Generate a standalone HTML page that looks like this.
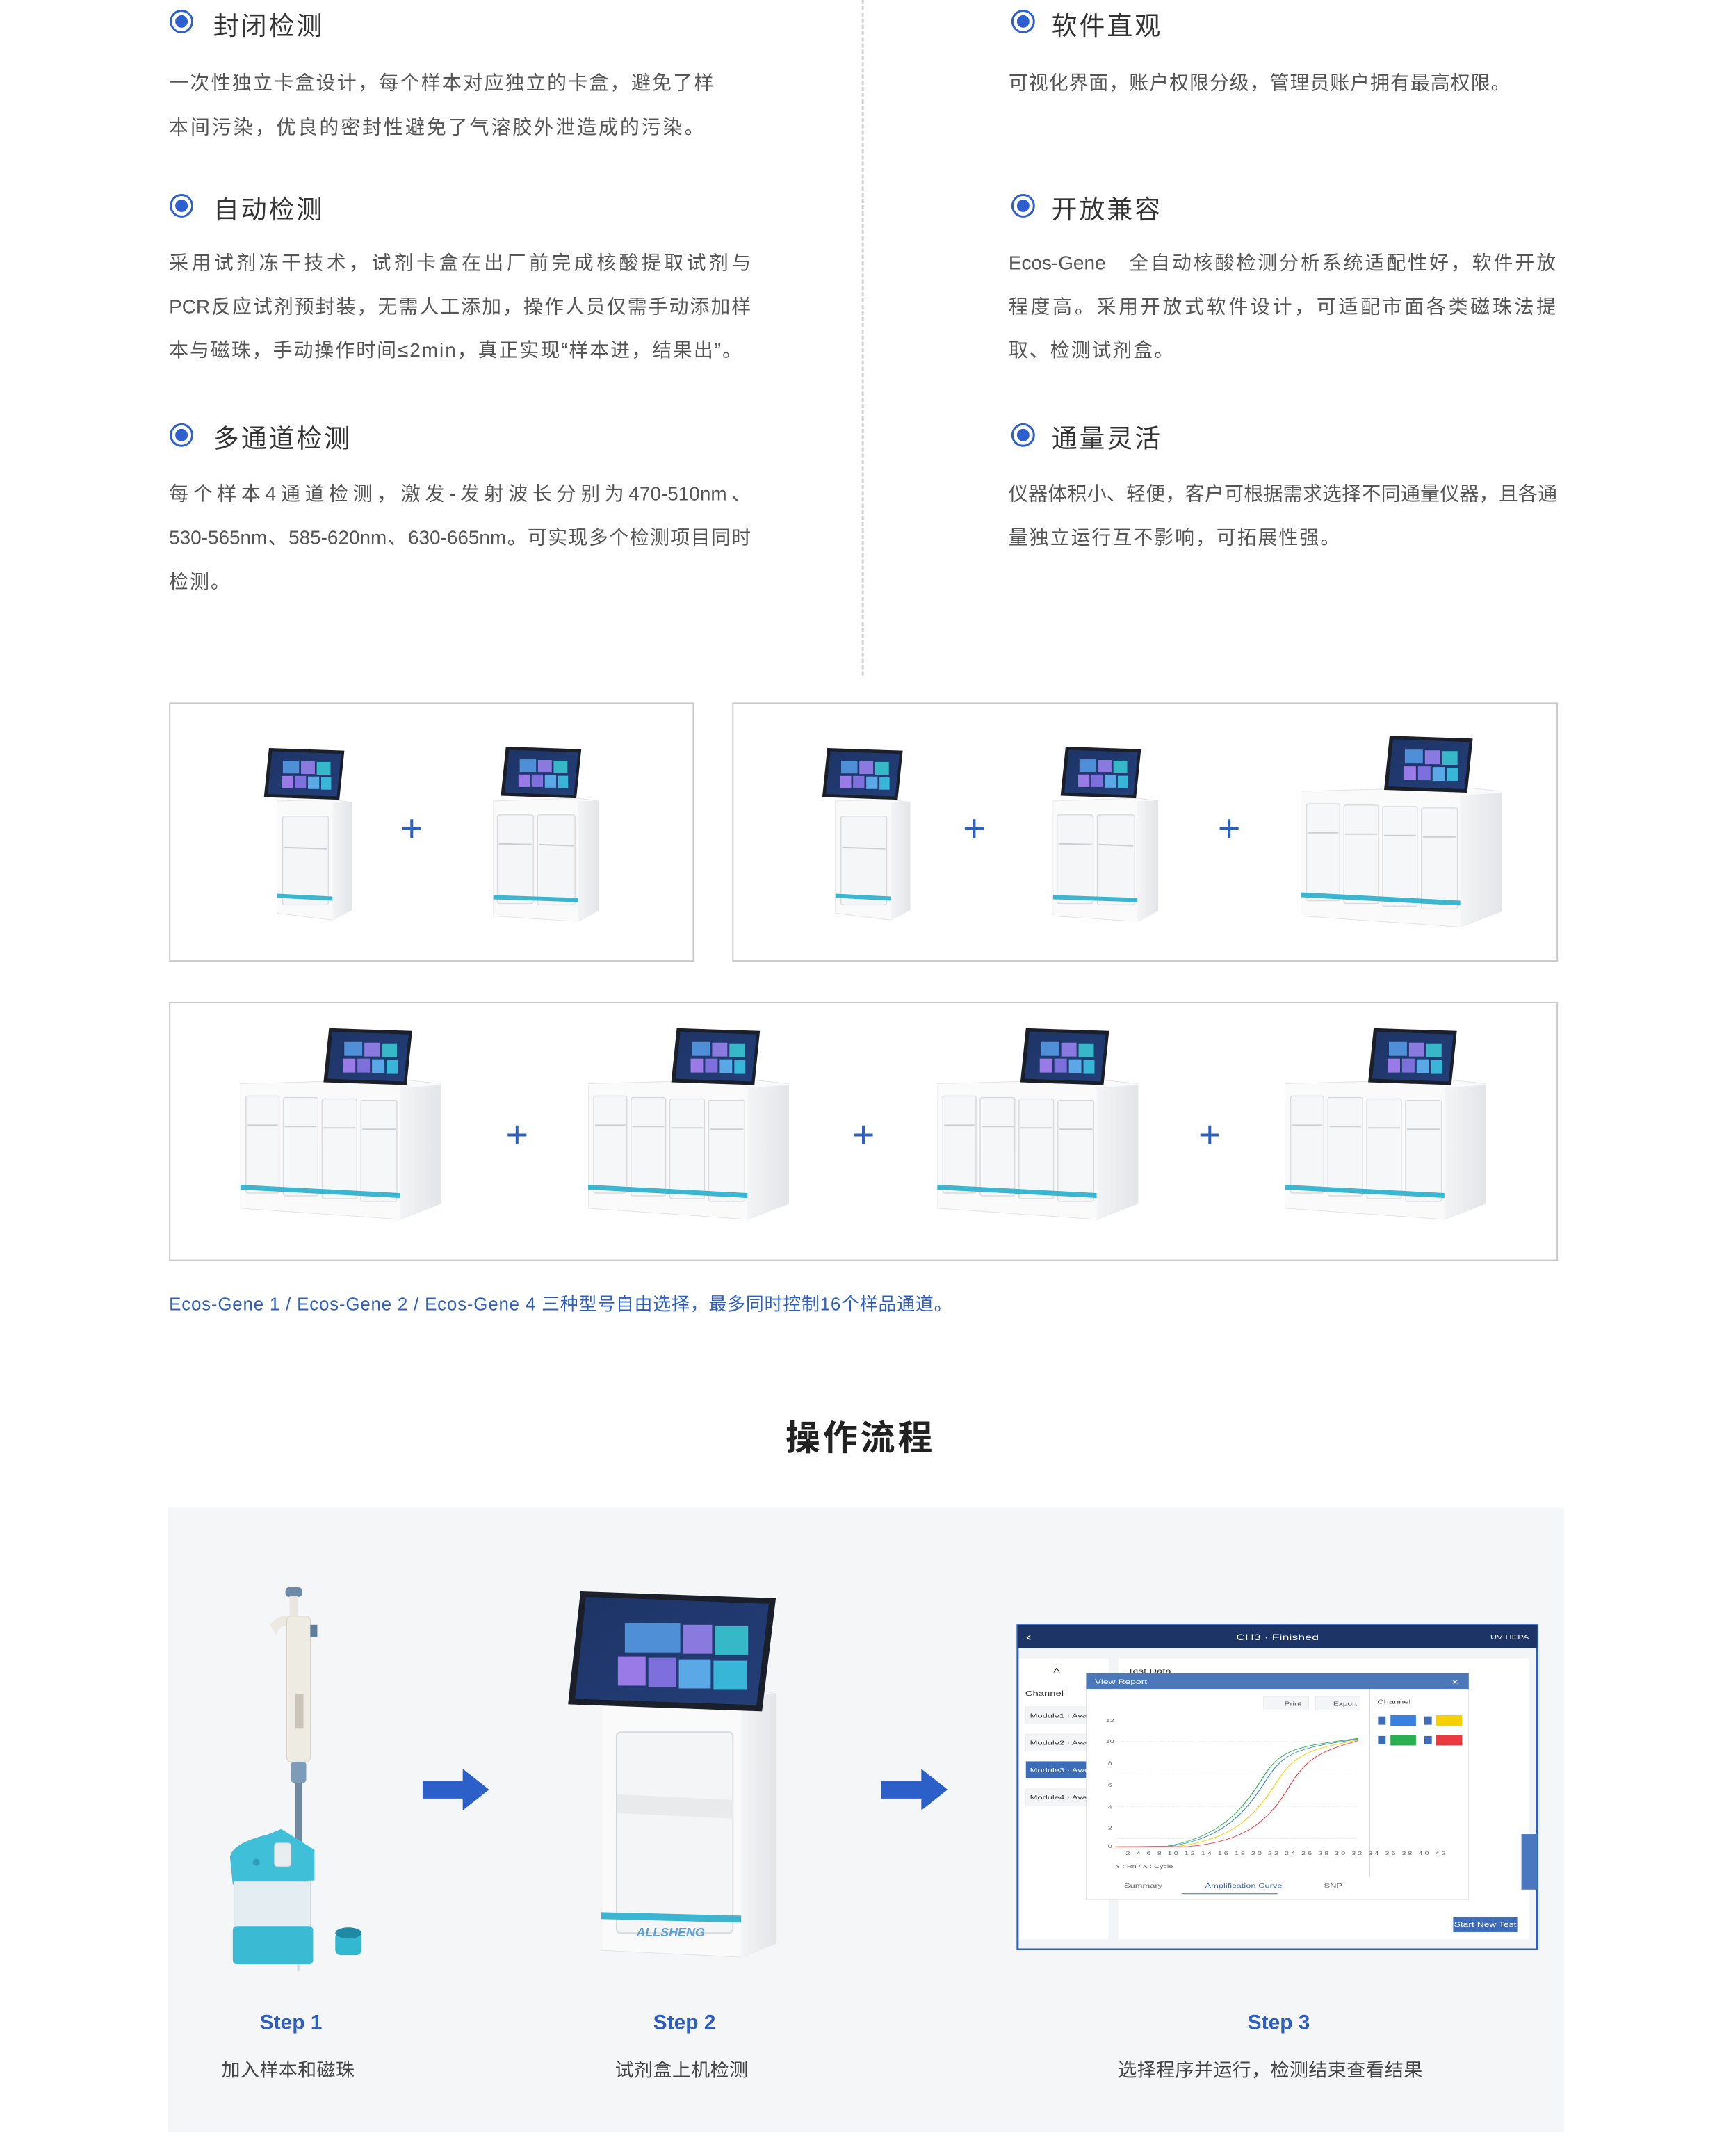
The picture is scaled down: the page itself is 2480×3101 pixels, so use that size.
<!DOCTYPE html>
<html><head><meta charset="utf-8">
<style>
body{margin:0;background:#fff;}
#w{width:2480px;height:3101px;overflow:hidden;position:relative;}
#p{position:relative;width:2480px;height:3101px;overflow:hidden;background:#fff;font-family:"Liberation Sans","Noto Sans CJK SC",sans-serif;transform:scale(0.9965);transform-origin:0 0;}
.a{position:absolute;white-space:nowrap;}
.bul{position:absolute;width:34px;height:34px;border:3px solid #2d5fd0;border-radius:50%;box-sizing:border-box;}
.bul:after{content:"";position:absolute;left:5px;top:5px;width:18px;height:18px;border-radius:50%;background:#2d5fd0;}
.ti{position:absolute;font-size:37px;color:#333;letter-spacing:3px;white-space:nowrap;}
.tx{position:absolute;font-size:28px;color:#555;letter-spacing:2px;white-space:nowrap;}
.j{text-align:justify;text-align-last:justify;letter-spacing:0;}
.box{position:absolute;border:2px solid #c8c8c8;box-sizing:border-box;}
.plus{position:absolute;color:#2d5fc0;font-size:56px;line-height:56px;font-weight:300;}
svg.d{position:absolute;}
.st{position:absolute;font-size:30px;font-weight:bold;color:#2d5fc0;transform:translateX(-50%);white-space:nowrap;}
.sd{position:absolute;font-size:27px;color:#444;transform:translateX(-50%);white-space:nowrap;letter-spacing:0.5px;}
</style></head><body><div id="w"><div id="p">
<svg width="0" height="0" style="position:absolute">
<defs>
<linearGradient id="scr" x1="0" y1="0" x2="1" y2="1"><stop offset="0" stop-color="#1d3466"/><stop offset="1" stop-color="#243e78"/></linearGradient>
<linearGradient id="side" x1="0" y1="0" x2="1" y2="0"><stop offset="0" stop-color="#f3f4f6"/><stop offset="1" stop-color="#e3e5e8"/></linearGradient>
<symbol id="tab" viewBox="0 0 130 86">
<polygon points="8,2 128,6 120,84 0,80" fill="#1b1f2a"/>
<polygon points="13,7 123,11 116,79 6,75" fill="url(#scr)"/>
<rect x="30" y="22" width="26" height="20" fill="#4f8fd8"/><rect x="59" y="23" width="22" height="20" fill="#8a7ae0"/><rect x="84" y="24" width="22" height="20" fill="#36b8c8"/>
<rect x="28" y="46" width="18" height="20" fill="#9a7ae6"/><rect x="49" y="46" width="18" height="20" fill="#7e70dc"/><rect x="70" y="47" width="18" height="20" fill="#5aa8e6"/><rect x="91" y="48" width="16" height="20" fill="#38b6d8"/>
</symbol>
<symbol id="d4" viewBox="0 0 290 280">
<polygon points="0,82 230,76 290,82 290,255 230,278 0,262" fill="#fafafb" stroke="#e2e4e6"/>
<polygon points="230,88 290,84 290,255 230,278" fill="url(#side)"/>
<g fill="#f6f7f8" stroke="#dadcdf" stroke-width="1.5">
<rect x="8" y="100" width="48" height="140" rx="3"/><rect x="62" y="102" width="50" height="142" rx="3"/><rect x="118" y="104" width="50" height="144" rx="3"/><rect x="174" y="106" width="52" height="146" rx="3"/></g>
<g stroke="#ccd0d4" stroke-width="2"><line x1="10" y1="142" x2="54" y2="142"/><line x1="64" y1="144" x2="110" y2="144"/><line x1="120" y1="146" x2="166" y2="146"/><line x1="176" y1="148" x2="224" y2="148"/></g>
<polygon points="0,228 230,240 230,247 0,235" fill="#3bb5d0"/>
<use href="#tab" x="120" y="0" width="130" height="86"/>
</symbol>
<symbol id="d1" viewBox="0 0 128 250">
<polygon points="20,78 100,76 128,80 128,235 100,250 20,240" fill="#fafafb" stroke="#e2e4e6"/>
<polygon points="100,80 128,80 128,235 100,250" fill="url(#side)"/>
<rect x="28" y="100" width="66" height="128" rx="3" fill="#f5f6f7" stroke="#dadcdf" stroke-width="1.5"/>
<line x1="30" y1="145" x2="92" y2="147" stroke="#ccd0d4" stroke-width="2"/>
<polygon points="20,212 100,216 100,222 20,218" fill="#3bb5d0"/>
<use href="#tab" x="0" y="0" width="120" height="78"/>
</symbol>
<symbol id="d2" viewBox="0 0 152 254">
<polygon points="0,80 122,76 152,80 152,238 122,254 0,246" fill="#fafafb" stroke="#e2e4e6"/>
<polygon points="122,80 152,80 152,238 122,254" fill="url(#side)"/>
<rect x="6" y="100" width="52" height="128" rx="3" fill="#f5f6f7" stroke="#dadcdf" stroke-width="1.5"/>
<rect x="64" y="100" width="54" height="130" rx="3" fill="#f5f6f7" stroke="#dadcdf" stroke-width="1.5"/>
<line x1="8" y1="142" x2="56" y2="143" stroke="#ccd0d4" stroke-width="2"/><line x1="66" y1="143" x2="116" y2="145" stroke="#ccd0d4" stroke-width="2"/>
<polygon points="0,216 122,220 122,226 0,222" fill="#3bb5d0"/>
<use href="#tab" x="10" y="0" width="120" height="78"/>
</symbol>
</defs></svg>

<div style="position:absolute;left:1244px;top:0;height:975px;border-left:3px dashed #d0d0d0;"></div>

<div class="bul" style="left:245px;top:14px"></div>
<div class="ti" style="left:308px;top:7px">封闭检测</div>
<div class="tx j" style="left:244px;top:98px;width:786px">一次性独立卡盒设计，每个样本对应独立的卡盒，避免了样</div>
<div class="tx" style="left:244px;top:162px;letter-spacing:3px">本间污染，优良的密封性避免了气溶胶外泄造成的污染。</div>

<div class="bul" style="left:245px;top:280px"></div>
<div class="ti" style="left:308px;top:272px">自动检测</div>
<div class="tx j" style="left:244px;top:358px;width:840px">采用试剂冻干技术，试剂卡盒在出厂前完成核酸提取试剂与</div>
<div class="tx j" style="left:244px;top:421px;width:840px">PCR反应试剂预封装，无需人工添加，操作人员仅需手动添加样</div>
<div class="tx" style="left:244px;top:484px;letter-spacing:2px">本与磁珠，手动操作时间≤2min，真正实现“样本进，结果出”。</div>

<div class="bul" style="left:245px;top:611px"></div>
<div class="ti" style="left:308px;top:603px">多通道检测</div>
<div class="tx j" style="left:244px;top:691px;width:840px">每个样本4通道检测，激发-发射波长分别为470-510nm、</div>
<div class="tx j" style="left:244px;top:754px;width:840px">530-565nm、585-620nm、630-665nm。可实现多个检测项目同时</div>
<div class="tx" style="left:244px;top:818px">检测。</div>

<div class="bul" style="left:1460px;top:14px"></div>
<div class="ti" style="left:1518px;top:7px">软件直观</div>
<div class="tx" style="left:1456px;top:98px;letter-spacing:1px">可视化界面，账户权限分级，管理员账户拥有最高权限。</div>

<div class="bul" style="left:1460px;top:280px"></div>
<div class="ti" style="left:1518px;top:272px">开放兼容</div>
<div class="tx j" style="left:1456px;top:358px;width:790px">Ecos-Gene　全自动核酸检测分析系统适配性好，软件开放</div>
<div class="tx j" style="left:1456px;top:421px;width:790px">程度高。采用开放式软件设计，可适配市面各类磁珠法提</div>
<div class="tx" style="left:1456px;top:484px">取、检测试剂盒。</div>

<div class="bul" style="left:1460px;top:611px"></div>
<div class="ti" style="left:1518px;top:603px">通量灵活</div>
<div class="tx j" style="left:1456px;top:691px;width:792px">仪器体积小、轻便，客户可根据需求选择不同通量仪器，且各通</div>
<div class="tx" style="left:1456px;top:754px;letter-spacing:2px">量独立运行互不影响，可拓展性强。</div>

<div class="box" style="left:244px;top:1014px;width:758px;height:374px"></div>
<div class="box" style="left:1057px;top:1014px;width:1192px;height:374px"></div>
<div class="box" style="left:244px;top:1446px;width:2005px;height:374px"></div>

<svg class="d" style="left:380px;top:1078px" width="128" height="250"><use href="#d1"/></svg>
<div class="plus" style="left:578px;top:1168px">+</div>
<svg class="d" style="left:712px;top:1076px" width="152" height="254"><use href="#d2"/></svg>

<svg class="d" style="left:1186px;top:1078px" width="128" height="250"><use href="#d1"/></svg>
<div class="plus" style="left:1390px;top:1168px">+</div>
<svg class="d" style="left:1520px;top:1076px" width="152" height="254"><use href="#d2"/></svg>
<div class="plus" style="left:1758px;top:1168px">+</div>
<svg class="d" style="left:1878px;top:1060px" width="290" height="280"><use href="#d4"/></svg>

<svg class="d" style="left:347px;top:1482px" width="290" height="280"><use href="#d4"/></svg>
<div class="plus" style="left:730px;top:1610px">+</div>
<svg class="d" style="left:849px;top:1482px" width="290" height="280"><use href="#d4"/></svg>
<div class="plus" style="left:1230px;top:1610px">+</div>
<svg class="d" style="left:1353px;top:1482px" width="290" height="280"><use href="#d4"/></svg>
<div class="plus" style="left:1730px;top:1610px">+</div>
<svg class="d" style="left:1855px;top:1482px" width="290" height="280"><use href="#d4"/></svg>

<div class="a" style="left:244px;top:1862px;font-size:26px;color:#2d5fc0;letter-spacing:0.8px">Ecos-Gene 1 / Ecos-Gene 2 / Ecos-Gene 4 三种型号自由选择，最多同时控制16个样品通道。</div>

<div class="a" style="left:1242px;top:2036px;transform:translateX(-50%);font-size:50px;font-weight:bold;color:#222;letter-spacing:4px">操作流程</div>

<div style="position:absolute;left:242px;top:2176px;width:2016px;height:901px;background:#f5f6f8"></div>

<svg class="d" style="left:320px;top:2285px" width="210" height="560" viewBox="0 0 210 560">
<rect x="92" y="6" width="24" height="14" rx="5" fill="#6b8aa8"/>
<rect x="98" y="18" width="12" height="30" fill="#e8e6df"/>
<path d="M70,60 Q80,45 100,48 L100,62 Q85,58 78,75 Z" fill="#ece9e0"/>
<rect x="94" y="48" width="34" height="210" rx="6" fill="#eeebe3" stroke="#d8d4c8"/>
<rect x="128" y="60" width="10" height="18" fill="#5f7d9c"/>
<rect x="106" y="160" width="12" height="50" fill="#c8c4b8"/>
<rect x="100" y="258" width="22" height="30" rx="4" fill="#7d9cb8"/>
<rect x="106" y="288" width="10" height="130" fill="#6f8aa0"/>
<polygon points="106,420 116,420 113,560 109,560" fill="#cfe0e6"/>
</svg>
<svg class="d" style="left:326px;top:2640px" width="200" height="200" viewBox="0 0 200 200">
<path d="M6,40 Q10,20 60,8 L80,0 L128,30 L128,74 L10,80 Z" fill="#3fc0d8"/>
<rect x="12" y="76" width="110" height="70" fill="#e4eef2" stroke="#cfdde3"/>
<rect x="10" y="140" width="116" height="55" rx="6" fill="#3bbad4"/>
<rect x="70" y="20" width="24" height="34" rx="4" fill="#e8eef0" stroke="#c8d2d6"/>
<circle cx="44" cy="48" r="5" fill="#2aa0b8"/>
<rect x="158" y="148" width="38" height="34" rx="8" fill="#33b8d2"/>
<ellipse cx="177" cy="150" rx="19" ry="8" fill="#1f8aa4"/>
</svg>

<svg class="d" style="left:610px;top:2553px" width="96" height="60" viewBox="0 0 96 60"><polygon points="0,17 58,17 58,0 96,30 58,60 58,43 0,43" fill="#2d5fc8"/></svg>
<svg class="d" style="left:1272px;top:2553px" width="96" height="60" viewBox="0 0 96 60"><polygon points="0,17 58,17 58,0 96,30 58,60 58,43 0,43" fill="#2d5fc8"/></svg>

<svg class="d" style="left:820px;top:2295px" width="300" height="540" viewBox="0 0 300 540">
<polygon points="48,150 250,138 300,150 300,510 250,530 48,520" fill="#fafafb" stroke="#e2e4e6"/>
<polygon points="250,150 300,150 300,510 250,530" fill="url(#side)"/>
<rect x="70" y="205" width="168" height="290" rx="6" fill="#f4f5f6" stroke="#d8dade" stroke-width="2"/>
<path d="M70,295 L238,303 L238,330 L70,322 Z" fill="#e8eaec"/>
<polygon points="48,465 250,470 250,480 48,475" fill="#3bb5d0"/>
<rect x="150" y="145" width="60" height="14" fill="#333"/>
<polygon points="18,2 300,12 280,175 0,165" fill="#1b1f2a"/>
<polygon points="26,10 290,20 272,166 10,157" fill="url(#scr)"/>
<rect x="82" y="48" width="80" height="42" fill="#4f8fd8"/><rect x="166" y="50" width="42" height="42" fill="#8a7ae0"/><rect x="212" y="52" width="48" height="42" fill="#36b8c8"/>
<rect x="72" y="96" width="40" height="42" fill="#9a7ae6"/><rect x="116" y="98" width="40" height="42" fill="#7e70dc"/><rect x="160" y="100" width="46" height="42" fill="#5aa8e6"/><rect x="210" y="102" width="48" height="42" fill="#38b6d8"/>
<text x="148" y="500" font-size="18" fill="#5aa0d8" text-anchor="middle" font-family="Liberation Sans" font-weight="bold" font-style="italic">ALLSHENG</text>
</svg>

<svg class="d" style="left:1466px;top:2344px" width="780" height="490" viewBox="0 0 1568 1470" preserveAspectRatio="none">
<rect x="6" y="4" width="1508" height="1404" fill="#f2f4f7" stroke="#2d5fc0" stroke-width="6"/>
<rect x="6" y="4" width="1508" height="100" fill="#1d3566"/>
<text x="760" y="70" font-size="36" fill="#fff" text-anchor="middle" font-family="Liberation Sans">CH3 · Finished</text>
<text x="1490" y="66" font-size="26" fill="#fff" text-anchor="end" font-family="Liberation Sans">UV   HEPA</text>
<text x="30" y="72" font-size="48" fill="#fff" font-family="Liberation Sans">‹</text>
<rect x="10" y="150" width="260" height="1215" fill="#fff"/>
<rect x="298" y="150" width="1192" height="1215" fill="#fff"/>
<text x="110" y="210" font-size="28" fill="#333" font-family="Liberation Sans">A</text>
<text x="28" y="310" font-size="30" fill="#333" font-family="Liberation Sans">Channel</text>
<text x="325" y="215" font-size="30" fill="#333" font-family="Liberation Sans">Test Data</text>
<rect x="30" y="358" width="180" height="74" fill="#f3f4f6" stroke="#ddd"/><text x="42" y="405" font-size="26" fill="#333" font-family="Liberation Sans">Module1 · Availa</text>
<rect x="30" y="476" width="180" height="74" fill="#f3f4f6" stroke="#ddd"/><text x="42" y="523" font-size="26" fill="#333" font-family="Liberation Sans">Module2 · Availa</text>
<rect x="30" y="595" width="180" height="74" fill="#3d6cb8"/><text x="42" y="642" font-size="26" fill="#fff" font-family="Liberation Sans">Module3 · Availa</text>
<rect x="30" y="713" width="180" height="74" fill="#f3f4f6" stroke="#ddd"/><text x="42" y="760" font-size="26" fill="#333" font-family="Liberation Sans">Module4 · Availa</text>
<rect x="1270" y="1268" width="186" height="66" fill="#3d6cb8"/><text x="1363" y="1310" font-size="28" fill="#fff" text-anchor="middle" font-family="Liberation Sans">Start New Test</text>
<rect x="1468" y="910" width="46" height="240" fill="#4a78c0"/>
<rect x="205" y="214" width="1110" height="980" fill="#fff" stroke="#ccc"/>
<rect x="205" y="214" width="1110" height="70" fill="#4a78b8"/>
<text x="230" y="260" font-size="28" fill="#fff" font-family="Liberation Sans">View Report</text>
<text x="1265" y="262" font-size="36" fill="#fff" font-family="Liberation Sans">×</text>
<line x1="1028" y1="285" x2="1028" y2="1095" stroke="#ddd" stroke-width="2"/>
<rect x="720" y="315" width="130" height="58" fill="#f4f5f7" stroke="#ddd"/><text x="780" y="355" font-size="24" fill="#555" font-family="Liberation Sans">Print</text>
<rect x="870" y="315" width="130" height="58" fill="#f4f5f7" stroke="#ddd"/><text x="922" y="355" font-size="24" fill="#555" font-family="Liberation Sans">Export</text>
<text x="1050" y="345" font-size="26" fill="#444" font-family="Liberation Sans">Channel</text>
<rect x="1088" y="395" width="74" height="46" fill="#3a80e0"/><rect x="1220" y="395" width="76" height="46" fill="#f4d000"/>
<rect x="1088" y="480" width="74" height="46" fill="#2ab050"/><rect x="1220" y="480" width="76" height="46" fill="#e83a40"/>
<g fill="#3d6cb8"><rect x="1052" y="400" width="22" height="36"/><rect x="1186" y="400" width="22" height="36"/><rect x="1052" y="485" width="22" height="36"/><rect x="1186" y="485" width="22" height="36"/></g>
<g stroke="#e2e2e2" stroke-dasharray="4,4" stroke-width="2"><line x1="290" y1="508" x2="995" y2="508"/><line x1="290" y1="650" x2="995" y2="650"/><line x1="290" y1="790" x2="995" y2="790"/><line x1="290" y1="930" x2="995" y2="930"/></g>
<g font-size="22" fill="#666" font-family="Liberation Sans"><text x="262" y="425">12</text><text x="262" y="515">10</text><text x="268" y="610">8</text><text x="268" y="705">6</text><text x="268" y="800">4</text><text x="268" y="890">2</text><text x="268" y="970">0</text>
<text x="290" y="1058">Y : Rn / X : Cycle</text>
<text x="315" y="1142" font-size="26">Summary</text><text x="550" y="1142" font-size="26" fill="#3d6cb8">Amplification Curve</text><text x="895" y="1142" font-size="26">SNP</text>
<text x="320" y="1000" letter-spacing="6">2 4 6 8 10 12 14 16 18 20 22 24 26 28 30 32 34 36 38 40 42</text></g>
<line x1="482" y1="1168" x2="760" y2="1168" stroke="#3d6cb8" stroke-width="3"/>
<g fill="none" stroke-width="2.5">
<path d="M290,965 L440,962 C600,920 660,800 720,660 C770,540 820,530 995,495" stroke="#2ab050"/>
<path d="M290,965 L450,962 C610,925 670,810 730,670 C780,550 830,535 995,498" stroke="#3a80e0"/>
<path d="M290,965 L470,963 C640,930 700,820 760,680 C810,560 860,540 995,502" stroke="#f4d000"/>
<path d="M290,965 L500,964 C680,940 740,840 800,690 C850,570 900,545 995,505" stroke="#e83a40"/>
</g>
</svg>

<div class="st" style="left:420px;top:2903px">Step 1</div>
<div class="sd" style="left:416px;top:2966px">加入样本和磁珠</div>
<div class="st" style="left:988px;top:2903px">Step 2</div>
<div class="sd" style="left:984px;top:2966px">试剂盒上机检测</div>
<div class="st" style="left:1846px;top:2903px">Step 3</div>
<div class="sd" style="left:1834px;top:2966px">选择程序并运行，检测结束查看结果</div>
</div></div></body></html>
